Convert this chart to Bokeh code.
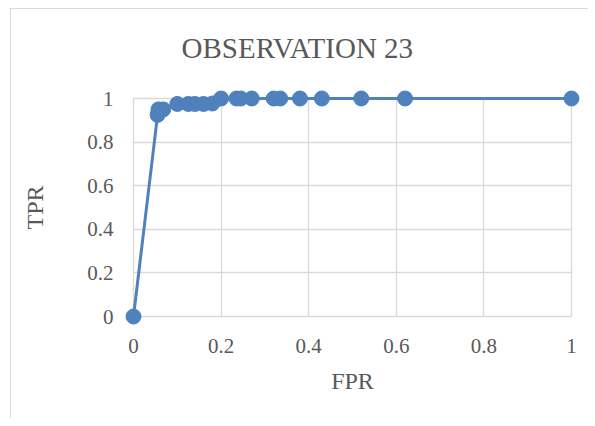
from bokeh.plotting import figure
from bokeh.models import Range1d, FixedTicker
from bokeh.embed import file_html
from bokeh.resources import INLINE

fpr = [0.0, 0.055, 0.057, 0.068, 0.1, 0.125, 0.14, 0.16, 0.18, 0.2, 0.235, 0.245,
       0.27, 0.32, 0.335, 0.38, 0.43, 0.52, 0.62, 1.0]
tpr = [0.0, 0.925, 0.95, 0.95, 0.975, 0.975, 0.975, 0.975, 0.977, 1.0, 1.0, 1.0,
       1.0, 1.0, 1.0, 1.0, 1.0, 1.0, 1.0, 1.0]
ticks = [0, 0.2, 0.4, 0.6, 0.8, 1]
title_text = "OBSERVATION 23"
x_label = "FPR"
y_label = "TPR"

W, H = 588, 418
FONT = "Liberation Serif"
GREY = "#595959"
BLUE = "#4F81BD"
PX = 10 / 438.0
PY = 10 / 218.0

p = figure(width=W, height=H, output_backend="svg", toolbar_location=None,
           x_range=Range1d(-PX, 1 + PX), y_range=Range1d(-PY, 1 + PY),
           min_border_left=123, min_border_right=7, min_border_top=88,
           min_border_bottom=92)
p.outline_line_color = None
p.border_fill_alpha = 0
p.background_fill_color = "white"
p.styles = {"box-shadow": "inset 10px 8px 0 0 white, inset 11px 9px 0 0 #D9D9D9"}

for ax, lab in ((p.xaxis, x_label), (p.yaxis, y_label)):
    ax.ticker = FixedTicker(ticks=ticks)
    ax.axis_line_color = None
    ax.major_tick_line_color = None
    ax.minor_tick_line_color = None
    ax.major_label_text_font = FONT
    ax.major_label_text_font_size = "21px"
    ax.major_label_text_color = GREY
    ax.axis_label = lab
    ax.axis_label_text_font = FONT
    ax.axis_label_text_font_size = "24px"
    ax.axis_label_text_font_style = "normal"
    ax.axis_label_text_color = GREY

p.xaxis.major_label_standoff = 6
p.yaxis.major_label_standoff = 4
p.xaxis.axis_label_standoff = 12
p.yaxis.axis_label_standoff = 36
p.yaxis.major_label_orientation = "horizontal"

for g in (p.xgrid, p.ygrid):
    g.ticker = FixedTicker(ticks=ticks)
    g.bounds = (0, 1)
    g.cross_bounds = (0, 1)
    g.grid_line_color = "#D9D9D9"
    g.grid_line_width = 1.3

p.line(fpr, tpr, line_color=BLUE, line_width=3)
p.scatter(fpr, tpr, size=15, fill_color=BLUE, line_color=BLUE)

p.title.text = title_text
p.title.text_font = FONT
p.title.text_font_size = "29px"
p.title.text_font_style = "normal"
p.title.text_color = GREY
p.title.align = "left"
p.title.offset = 58
p.title.standoff = 49

open("out.html", "w").write(file_html(p, INLINE))
